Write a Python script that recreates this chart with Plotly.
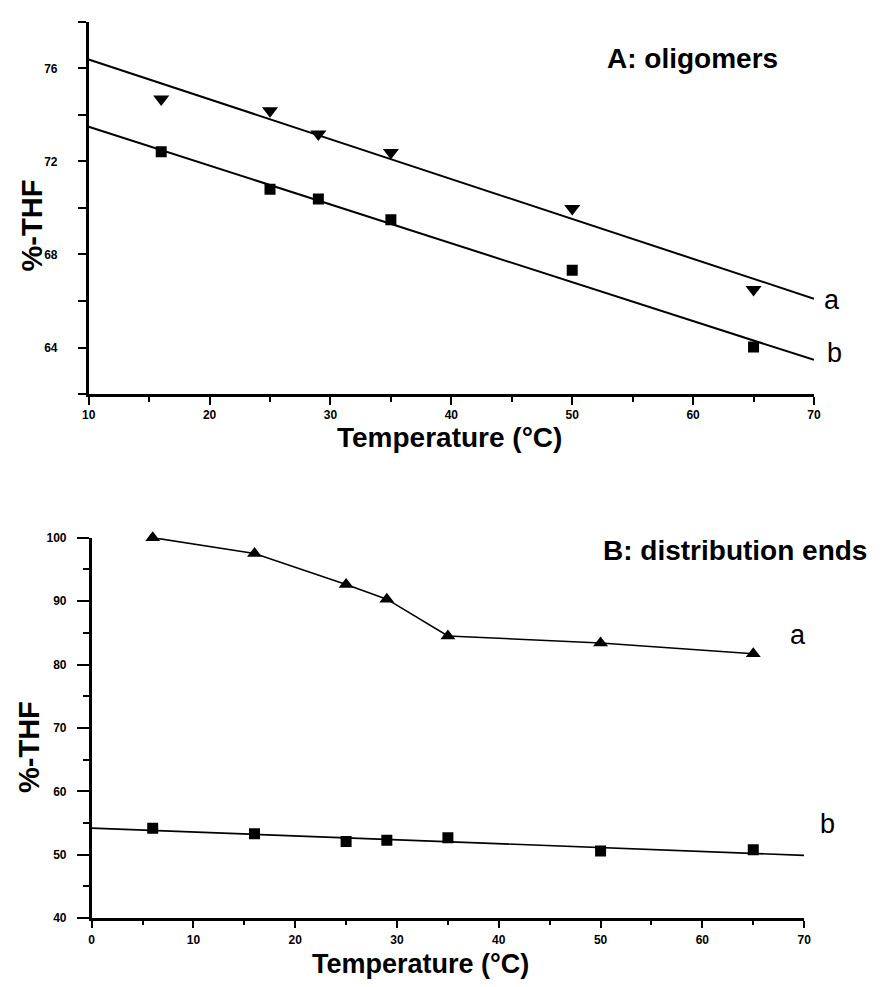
import plotly.graph_objects as go

# ---------------- data ----------------
# Panel A: oligomers
tempA = [16, 25, 29, 35, 50, 65]
oligo_a = [74.68, 74.18, 73.18, 72.38, 69.98, 66.5]
oligo_b = [72.42, 70.80, 70.38, 69.49, 67.32, 64.03]
fitA_x = [10, 70]
fitA_a_y = [76.38, 66.1]
fitA_b_y = [73.49, 63.47]

# Panel B: distribution ends
tempB = [6, 16, 25, 29, 35, 50, 65]
ends_a = [100.0, 97.5, 92.6, 90.3, 84.5, 83.4, 81.7]
ends_b = [54.2, 53.3, 52.1, 52.3, 52.7, 50.6, 50.8]
fitB_x = [0, 70]
fitB_b_y = [54.2, 49.9]

# axis ticks
A_xticks = [10, 20, 30, 40, 50, 60, 70]
A_yticks = [62, 64, 66, 68, 70, 72, 74, 76, 78]
A_ytext = ["", "64", "", "68", "", "72", "", "76", ""]
B_xticks = [0, 10, 20, 30, 40, 50, 60, 70]
B_yticks = [40, 50, 60, 70, 80, 90, 100]

W, H = 883, 987
FONT = "Liberation Sans"

def px(x):
    return x / W

def py(y):
    return 1 - y / H

fig = go.Figure()

# Panel A traces
fig.add_trace(go.Scatter(x=fitA_x, y=fitA_a_y, mode="lines",
                         line=dict(color="black", width=2), xaxis="x", yaxis="y"))
fig.add_trace(go.Scatter(x=fitA_x, y=fitA_b_y, mode="lines",
                         line=dict(color="black", width=2), xaxis="x", yaxis="y"))
fig.add_trace(go.Scatter(x=tempA, y=oligo_a, mode="markers",
                         marker=dict(symbol="triangle-down", size=14, color="black"),
                         xaxis="x", yaxis="y"))
fig.add_trace(go.Scatter(x=tempA, y=oligo_b, mode="markers",
                         marker=dict(symbol="square", size=11, color="black"),
                         xaxis="x", yaxis="y"))

# Panel B traces
fig.add_trace(go.Scatter(x=tempB, y=ends_a, mode="lines+markers",
                         line=dict(color="black", width=1.6),
                         marker=dict(symbol="triangle-up", size=13, color="black"),
                         cliponaxis=False, xaxis="x2", yaxis="y2"))
fig.add_trace(go.Scatter(x=fitB_x, y=fitB_b_y, mode="lines",
                         line=dict(color="black", width=1.6), xaxis="x2", yaxis="y2"))
fig.add_trace(go.Scatter(x=tempB, y=ends_b, mode="markers",
                         marker=dict(symbol="square", size=11, color="black"),
                         xaxis="x2", yaxis="y2"))

tickfont = dict(family=FONT, size=12, color="black", weight="bold")
common = dict(showgrid=False, zeroline=False, showline=True, linecolor="black",
              linewidth=2.5, ticks="outside", tickcolor="black", tickwidth=2,
              tickfont=tickfont, mirror=False, fixedrange=True)

fig.update_layout(
    width=W, height=H,
    margin=dict(l=0, r=0, t=0, b=0),
    paper_bgcolor="white", plot_bgcolor="white",
    showlegend=False,
    xaxis=dict(domain=[px(83), px(820)], range=[10, 70], anchor="y",
               tickmode="array", tickvals=A_xticks, ticklen=8,
               minor=dict(dtick=5, tick0=0, ticks="outside", ticklen=5,
                          tickwidth=1.5, tickcolor="black", showgrid=False),
               **common),
    yaxis=dict(domain=[py(392.7), py(15)], range=[62, 78], anchor="x",
               tickmode="array", tickvals=A_yticks, ticktext=A_ytext,
               ticklen=8, ticklabelstandoff=18, **common),
    xaxis2=dict(domain=[px(86), px(810)], range=[0, 70], anchor="y2",
                tickmode="array", tickvals=B_xticks, ticklen=7,
                ticklabelstandoff=2,
                minor=dict(dtick=5, tick0=0, ticks="outside", ticklen=4,
                           tickwidth=1.5, tickcolor="black", showgrid=False),
                **common),
    yaxis2=dict(domain=[py(924.3), py(538.3)], range=[40, 100], anchor="x2",
                tickmode="array", tickvals=B_yticks, ticklen=12,
                ticklabelstandoff=8,
                minor=dict(dtick=5, tick0=0, ticks="outside", ticklen=6,
                           tickwidth=1.5, tickcolor="black", showgrid=False),
                **common),
)

def note(text, x, y, size, bold=True, angle=0):
    fig.add_annotation(text=text, x=px(x), y=py(y), xref="paper", yref="paper",
                       showarrow=False, textangle=angle,
                       xanchor="center", yanchor="middle",
                       font=dict(family=FONT, size=size, color="black",
                                 weight="bold" if bold else "normal"))

note("A: oligomers", 697, 52, 28)
note("B: distribution ends", 740, 551, 28)
note("Temperature (°C)", 450, 437, 28)
note("Temperature (°C)", 420, 971, 27)
note("%-THF", 25, 222, 29, angle=-90)
note("%-THF", 23, 751, 29, angle=-90)
note("a", 838, 297, 27, bold=False)
note("b", 841, 351, 27, bold=False)
note("a", 804, 637, 27, bold=False)
note("b", 834, 829, 27, bold=False)

fig.write_html("out.html")
